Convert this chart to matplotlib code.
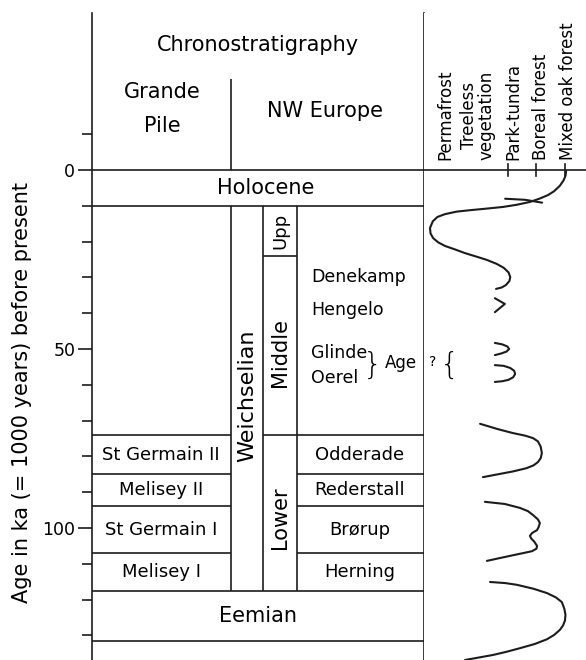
import numpy as np
import matplotlib
matplotlib.use("Agg")
import matplotlib.pyplot as plt

# ---- data: ages in ka before present ----
holocene_base = 10
upp_base = 24
weich_base = 117.5
eemian_base = 131.5

stage_tops = [74, 85, 94, 107]
grande_pile_names = ["St Germain II", "Melisey II", "St Germain I", "Melisey I"]
nw_europe_names = ["Odderade", "Rederstall", "Brørup", "Herning"]

interstadials = ["Denekamp", "Hengelo", "Glinde", "Oerel"]
interstadial_ages = [30, 39, 51, 58]

veg_classes = ["Permafrost", "Treeless\nvegetation", "Park-tundra", "Boreal forest", "Mixed oak forest"]
veg_label_pos = [-0.2, 0.95, 2.2, 3.15, 4.1]
veg_ticks = [2, 3, 4]

# vegetation curve pieces: x = vegetation class (0..4), y = age ka
holo_x = [4.04, 4.02, 3.95, 3.82, 3.62, 3.40, 3.10, 2.77, 2.30, 1.82, 1.20, 0.67, 0.20, -0.21, -0.48, -0.64, -0.74, -0.72, -0.63,
          -0.45, -0.21, 0.15, 0.49, 0.90, 1.26, 1.60, 1.85, 2.02, 2.08, 2.05, 1.93, 1.78, 1.58]
holo_y = [0.3, 1.6, 2.9, 4.4, 5.9, 7.0, 8.0, 8.9, 9.7, 10.3, 10.8, 11.2, 11.6, 12.3, 13.1, 14.3, 16.2, 17.7, 19.0,
          20.2, 21.2, 22.2, 23.2, 24.2, 25.1, 26.2, 27.3, 28.6, 29.9, 31.0, 32.1, 32.8, 33.2]
stroke_x = [1.9, 2.6, 3.2]
stroke_y = [8.0, 8.3, 9.1]
hengelo_x = [1.54, 1.89, 1.54]
hengelo_y = [35.8, 37.4, 39.7]
glinde_x = [1.54, 1.80, 1.98, 2.04, 1.95, 1.78, 1.54]
glinde_y = [48.3, 48.7, 49.3, 50.0, 50.7, 51.2, 51.7]
oerel_x = [1.54, 1.85, 2.08, 2.22, 2.25, 2.18, 2.02, 1.80, 1.54]
oerel_y = [54.5, 54.7, 55.3, 56.1, 57.0, 57.9, 58.6, 59.0, 59.2]
odderade_x = [1.02, 1.65, 2.18, 2.60, 2.88, 3.05, 3.15, 3.19, 3.15, 3.05, 2.90, 2.65, 2.18, 1.65, 1.12]
odderade_y = [70.9, 72.4, 73.5, 74.2, 74.9, 75.8, 77.3, 79.1, 80.5, 81.6, 82.5, 83.3, 84.2, 85.0, 85.8]
brorup_x = [1.19, 1.89, 2.42, 2.70, 2.88, 3.05, 3.12, 3.08, 3.02, 2.85, 2.77, 2.82, 2.92, 3.02, 3.00, 2.84, 2.55, 2.25, 1.72, 1.26]
brorup_y = [92.7, 93.3, 94.4, 95.3, 96.4, 97.6, 98.6, 99.7, 100.6, 101.4, 102.2, 103.0, 103.8, 105.0, 105.8, 106.5, 107.0, 107.5, 108.4, 109.2]
eemian_x = [1.37, 1.90, 2.32, 2.90, 3.37, 3.68, 3.89, 3.98, 4.02, 4.0, 3.93, 3.82, 3.62, 3.37, 2.95, 2.42, 1.95, 1.47, 0.91, 0.49]
eemian_y = [115.1, 115.4, 115.9, 117.0, 118.2, 119.4, 120.7, 122.6, 124.3, 125.9, 127.3, 128.5, 129.9, 131.1, 132.4, 133.6, 134.6, 135.5, 136.3, 136.9]

# ---- layout ----
W, H = 586, 660
LC = "#1c1c1c"
LW = 1.2
x_left, x_gp, x_weich, x_mid, x_right = 92, 231, 263, 297, 424

fig = plt.figure(figsize=(W / 100, H / 100), dpi=100)
ax = fig.add_axes([x_left / W, 0, (x_right - x_left) / W, (H - 13) / H])
vax = fig.add_axes([x_right / W, 0, (W - x_right) / W, (H - 13) / H])

ylim = (136.9, -43.9)
ax.set_ylim(*ylim)
vax.set_ylim(*ylim)
ax.set_xlim(x_left, x_right)
vax.set_xlim(-0.95, 4.74)

for s in ["top", "bottom"]:
    ax.spines[s].set_visible(False)
for s in vax.spines.values():
    s.set_visible(False)
ax.spines["left"].set_color(LC)
ax.spines["right"].set_color(LC)
ax.spines["left"].set_linewidth(LW)
ax.spines["right"].set_linewidth(LW)
ax.set_xticks([])
vax.set_xticks([])
vax.set_yticks([])

ax.set_yticks([0, 50, 100])
ax.set_yticks([a for a in range(-10, 135, 10) if a % 50 != 0], minor=True)
ax.tick_params(axis="y", which="major", length=10, width=LW, color=LC, labelsize=12.5, pad=2)
ax.tick_params(axis="y", which="minor", length=7, width=LW, color=LC)
ax.set_ylabel("Age in ka (= 1000 years) before present", fontsize=15)
ax.yaxis.set_label_coords(-0.182, 0.414)


def hline(age, x0, x1):
    ax.plot([x0, x1], [age, age], color=LC, lw=LW, clip_on=False, solid_capstyle="butt")


def vline(x, a0, a1):
    ax.plot([x, x], [a0, a1], color=LC, lw=LW, clip_on=False, solid_capstyle="butt")


# zero line through both panels
hline(0, x_left, x_right)
vax.plot([-0.95, 4.74], [0, 0], color=LC, lw=LW, clip_on=False)
for t in veg_ticks:
    vax.plot([t, t], [-1.6, 1.6], color=LC, lw=LW)

# header divider
vline(x_gp, -25.5, 0)

# Holocene / Weichselian / Eemian
hline(holocene_base, x_left, x_right + 3)
hline(weich_base, x_left, x_right + 3)
hline(eemian_base, x_left, x_right + 3)
for x in [x_gp, x_weich, x_mid]:
    vline(x, holocene_base, weich_base)
hline(upp_base, x_weich, x_mid)
hline(stage_tops[0], x_weich, x_mid)
for top in stage_tops:
    hline(top, x_left, x_gp)
    hline(top, x_mid, x_right + 3)

bounds = stage_tops + [weich_base]
for i in range(len(stage_tops)):
    mid = (bounds[i] + bounds[i + 1]) / 2
    ax.text(161, mid, grande_pile_names[i], ha="center", va="center", fontsize=13)
    ax.text(360, mid, nw_europe_names[i], ha="center", va="center", fontsize=13)

for name, age in zip(interstadials, interstadial_ages):
    ax.text(311, age, name, ha="left", va="center", fontsize=12.5)
ax.text(373, 54.5, "}", ha="center", va="center", fontsize=22, fontweight="light")
ax.text(401, 54, "Age", ha="center", va="center", fontsize=12)
vax.text(-0.63, 53.5, "?", ha="center", va="center", fontsize=10)
vax.text(-0.05, 54.5, "{", ha="center", va="center", fontsize=22, fontweight="light")

ax.text(258, -35, "Chronostratigraphy", ha="center", va="center", fontsize=15)
ax.text(162, -21.8, "Grande", ha="center", va="center", fontsize=15)
ax.text(162, -12.3, "Pile", ha="center", va="center", fontsize=15)
ax.text(325, -16.5, "NW Europe", ha="center", va="center", fontsize=15)
ax.text(266, holocene_base / 2, "Holocene", ha="center", va="center", fontsize=15)
ax.text(258, (weich_base + eemian_base) / 2, "Eemian", ha="center", va="center", fontsize=15)

ax.text((x_gp + x_weich) / 2, 63, "Weichselian", rotation=90, ha="center", va="center", fontsize=16)
ax.text((x_weich + x_mid) / 2, (holocene_base + upp_base) / 2, "Upp", rotation=90, ha="center", va="center", fontsize=13)
ax.text((x_weich + x_mid) / 2, 51, "Middle", rotation=90, ha="center", va="center", fontsize=15)
ax.text((x_weich + x_mid) / 2, 97, "Lower", rotation=90, ha="center", va="center", fontsize=15)

for name, xp in zip(veg_classes, veg_label_pos):
    vax.text(xp, -2.8, name, rotation=90, ha="center", va="bottom", fontsize=12,
             linespacing=0.95, clip_on=False)

kw = dict(color=LC, lw=1.5, clip_on=False, solid_capstyle="round", solid_joinstyle="round")
for xs, ys in [(holo_x, holo_y), (stroke_x, stroke_y), (hengelo_x, hengelo_y),
               (glinde_x, glinde_y), (oerel_x, oerel_y), (odderade_x, odderade_y),
               (brorup_x, brorup_y), (eemian_x, eemian_y)]:
    vax.plot(xs, ys, **kw)

fig.savefig("out.png", dpi=100)
